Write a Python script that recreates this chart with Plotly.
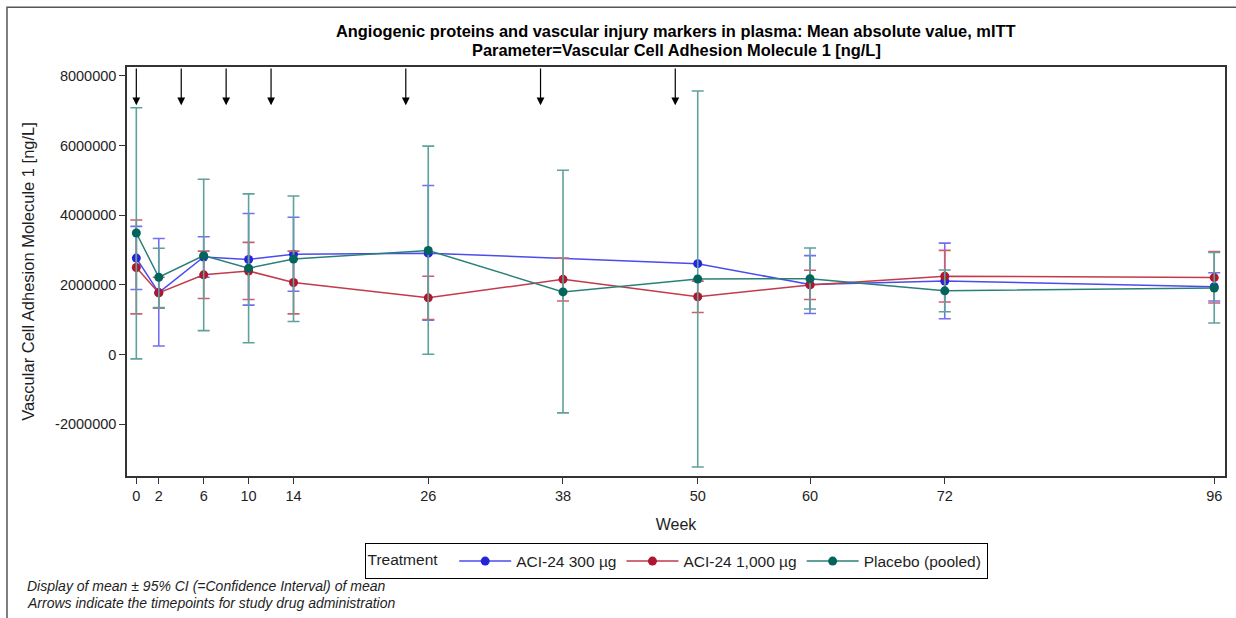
import numpy as np
import plotly.graph_objects as go

weeks = [0, 2, 6, 10, 14, 26, 38, 50, 60, 72, 96]
week_ticks = ["0", "2", "6", "10", "14", "26", "38", "50", "60", "72", "96"]
dose_weeks = [0, 4, 8, 12, 24, 36, 48]

y_ticks = [-2000000, 0, 2000000, 4000000, 6000000, 8000000]
y_tick_text = ["-2000000", "0", "2000000", "4000000", "6000000", "8000000"]

# ACI-24 300 ug (no value at week 38, no CI at week 50)
mean_300 = [2770000, 1780000, 2800000, 2730000, 2880000, 2910000, None, 2610000, 2010000, 2110000, 1950000]
upper_300 = [3680000, 3330000, 3380000, 4050000, 3940000, 4850000, None, None, 2840000, 3200000, 2350000]
lower_300 = [1870000, 250000, 2220000, 1420000, 1820000, 990000, None, None, 1180000, 1030000, 1540000]

# ACI-24 1,000 ug
mean_1000 = [2500000, 1770000, 2290000, 2400000, 2070000, 1630000, 2160000, 1660000, 2000000, 2250000, 2210000]
upper_1000 = [3860000, 2220000, 2970000, 3220000, 2970000, 2250000, 2770000, 2110000, 2420000, 2990000, 2960000]
lower_1000 = [1170000, 1330000, 1610000, 1580000, 1170000, 1010000, 1540000, 1210000, 1580000, 1510000, 1480000]

# Placebo (pooled)
mean_pbo = [3490000, 2220000, 2840000, 2480000, 2740000, 2990000, 1800000, 2170000, 2180000, 1830000, 1910000]
upper_pbo = [7080000, 3050000, 5030000, 4610000, 4550000, 5980000, 5290000, 7560000, 3060000, 2430000, 2930000]
lower_pbo = [-120000, 1350000, 690000, 340000, 950000, 10000, -1670000, -3220000, 1310000, 1230000, 910000]

series = [
    ("ACI-24 300 µg", mean_300, upper_300, lower_300, "#2424DC", "#4B4BEE", "#7070F2"),
    ("ACI-24 1,000 µg", mean_1000, upper_1000, lower_1000, "#B0162E", "#C23A4C", "#CC5F6E"),
    ("Placebo (pooled)", mean_pbo, upper_pbo, lower_pbo, "#02655B", "#2A8078", "#5FA29B"),
]

font = "Liberation Sans, Arial, sans-serif"
txt = "#1e1e1e"

fig = go.Figure()
for name, m, u, l, mcol, lcol, ecol in series:
    m = np.array(m, dtype=float)
    u = np.array(u, dtype=float)
    l = np.array(l, dtype=float)
    fig.add_trace(go.Scatter(
        x=weeks, y=m, name=name, mode="lines+markers",
        connectgaps=True,
        line=dict(color=lcol, width=1.5),
        marker=dict(color=mcol, size=9),
        error_y=dict(type="data", symmetric=False, array=u - m, arrayminus=m - l,
                     color=ecol, thickness=1.6, width=6),
    ))

# arrows for study drug administration
for w in dose_weeks:
    fig.add_annotation(
        x=w, y=7150000, ax=w, ay=8250000, xref="x", yref="y", axref="x", ayref="y",
        text="", showarrow=True, arrowhead=2, arrowsize=1.3, arrowwidth=1.2,
        arrowcolor="black", standoff=0,
    )

fig.add_annotation(x=0.5, y=1.088, xref="paper", yref="paper", showarrow=False, yanchor="middle",
                   text="<b>Angiogenic proteins and vascular injury markers in plasma: Mean absolute value, mITT</b>",
                   font=dict(size=16.4, color="black"))
fig.add_annotation(x=0.5, y=1.042, xref="paper", yref="paper", showarrow=False, yanchor="middle",
                   text="<b>Parameter=Vascular Cell Adhesion Molecule 1 [ng/L]</b>",
                   font=dict(size=16.4, color="black"))

fig.add_annotation(x=-0.093, y=-0.269, xref="paper", yref="paper", showarrow=False,
                   xanchor="left", yanchor="middle",
                   text="<i>Display of mean ± 95% CI (=Confidence Interval) of mean</i>",
                   font=dict(size=14, color=txt))
fig.add_annotation(x=-0.093, y=-0.31, xref="paper", yref="paper", showarrow=False,
                   xanchor="left", yanchor="middle",
                   text="<i>Arrows indicate the timepoints for study drug administration</i>",
                   font=dict(size=14, color=txt))

# outer frame
fig.add_shape(type="rect", xref="paper", yref="paper", x0=-0.1093, x1=1.03, y0=-0.4, y1=1.146,
              line=dict(color="#555555", width=1.5))

axis_common = dict(showline=True, linecolor="#333333", linewidth=1.5, mirror=True,
                   ticks="outside", ticklen=6, tickcolor="#333333", showgrid=False,
                   zeroline=False, tickfont=dict(size=14.5, color=txt))

fig.update_xaxes(range=[-0.83, 96.96], tickvals=weeks, ticktext=week_ticks,
                 title=dict(text="Week", font=dict(size=16, color=txt), standoff=16),
                 **axis_common)
fig.update_yaxes(range=[-3480000, 8250000], tickvals=y_ticks, ticktext=y_tick_text,
                 title=dict(text="Vascular Cell Adhesion Molecule 1 [ng/L]", font=dict(size=16.5, color=txt),
                            standoff=16),
                 **axis_common)

fig.update_layout(
    width=1236, height=618,
    margin=dict(l=127, r=11, t=67, b=142, autoexpand=False),
    paper_bgcolor="white", plot_bgcolor="white",
    font=dict(family=font, size=14, color=txt),
    showlegend=True,
    legend=dict(
        orientation="h", x=0.5, xanchor="center", y=-0.165, yanchor="top",
        title=dict(text="Treatment  ", side="left", font=dict(size=15.5)),
        bordercolor="black", borderwidth=1, bgcolor="white",
        font=dict(size=15.5, color=txt), itemwidth=52,
        tracegroupgap=0,
    ),
)

fig.write_html("out.html", post_script="document.body.style.margin='0';",
               config={"displayModeBar": False})
